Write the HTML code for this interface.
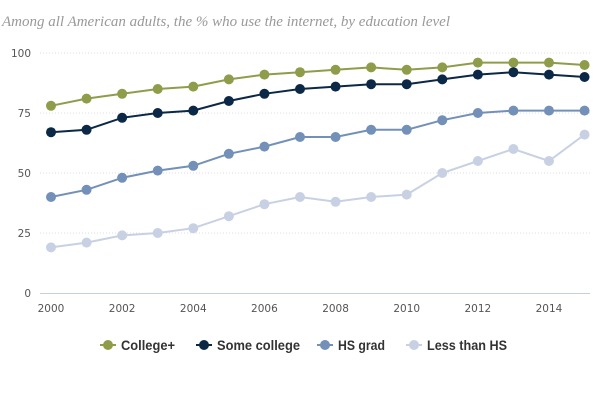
<!DOCTYPE html>
<html><head><meta charset="utf-8"><style>
body{margin:0;background:#fff;width:600px;height:400px;overflow:hidden}
svg{display:block}
</style></head><body>
<svg id="chart" width="600" height="400">
<text x="2" y="26" font-family="Liberation Serif, serif" font-style="italic" font-size="15" textLength="448" lengthAdjust="spacingAndGlyphs" fill="#999">Among all American adults, the % who use the internet, by education level</text>
</svg>
<script>
const years=[2000,2001,2002,2003,2004,2005,2006,2007,2008,2009,2010,2011,2012,2013,2014,2015];
const collegePlus=[78,81,83,85,86,89,91,92,93,94,93,94,96,96,96,95];
const someCollege=[67,68,73,75,76,80,83,85,86,87,87,89,91,92,91,90];
const hsGrad=[40,43,48,51,53,58,61,65,65,68,68,72,75,76,76,76];
const lessThanHS=[19,21,24,25,27,32,37,40,38,40,41,50,55,60,55,66];
const yTicks=[0,25,50,75,100];
const xTicks=[2000,2002,2004,2006,2008,2010,2012,2014];
const seriesNames=["College+","Some college","HS grad","Less than HS"];
const colors=["#8f9c4a","#0b2846","#7390b8","#c8d1e3"];
const NS="http://www.w3.org/2000/svg";
const svg=document.getElementById('chart');
const xS=y=>51+(y-2000)*35.57;
const yS=v=>293-v*2.4;
function mk(t,a){const e=document.createElementNS(NS,t);for(const k in a)e.setAttribute(k,a[k]);svg.appendChild(e);return e;}
yTicks.forEach(t=>{
  if(t>0){const g=mk('line',{x1:40,x2:590,y1:yS(t),y2:yS(t),stroke:'#ddd','stroke-dasharray':'1,2'});
  
  }
  const l=mk('text',{x:31,y:yS(t)+4,'text-anchor':'end','font-family':'DejaVu Sans, sans-serif','font-size':'10.5',fill:'#555'});
  l.textContent=t;
  
  
});
const ax=mk('line',{x1:40,x2:590,y1:293.5,y2:293.5,stroke:'#c5d0dc'});


xTicks.forEach(t=>{
  const l=mk('text',{x:xS(t),y:312,'text-anchor':'middle','font-family':'DejaVu Sans, sans-serif','font-size':'10.5',fill:'#555'});
  l.textContent=t;
  
  
});
[collegePlus,someCollege,hsGrad,lessThanHS].forEach((s,i)=>{
  const p=mk('polyline',{points:s.map((v,j)=>xS(years[j])+','+yS(v)).join(' '),fill:'none',stroke:colors[i],'stroke-width':2});
  
  
  s.forEach((v,j)=>{
    const c=mk('circle',{cx:xS(years[j]),cy:yS(v),r:5,fill:colors[i]});
    
    
  });
});
const lx=[100,196,317,406];
const lw=[54,83,47,80];
seriesNames.forEach((n,i)=>{
  const g=mk('line',{x1:lx[i],x2:lx[i]+16,y1:345,y2:345,stroke:colors[i],'stroke-width':2});
  
  
  const c=mk('circle',{cx:lx[i]+8,cy:345,r:5,fill:colors[i]});
  
  
  const t=mk('text',{x:lx[i]+21,y:350,'font-family':'Liberation Sans Narrow, Liberation Sans, sans-serif','font-weight':'bold','font-size':'14',fill:'#333',textLength:lw[i],lengthAdjust:'spacingAndGlyphs'});
  t.textContent=n;
  
  
});
</script>
</body></html>
